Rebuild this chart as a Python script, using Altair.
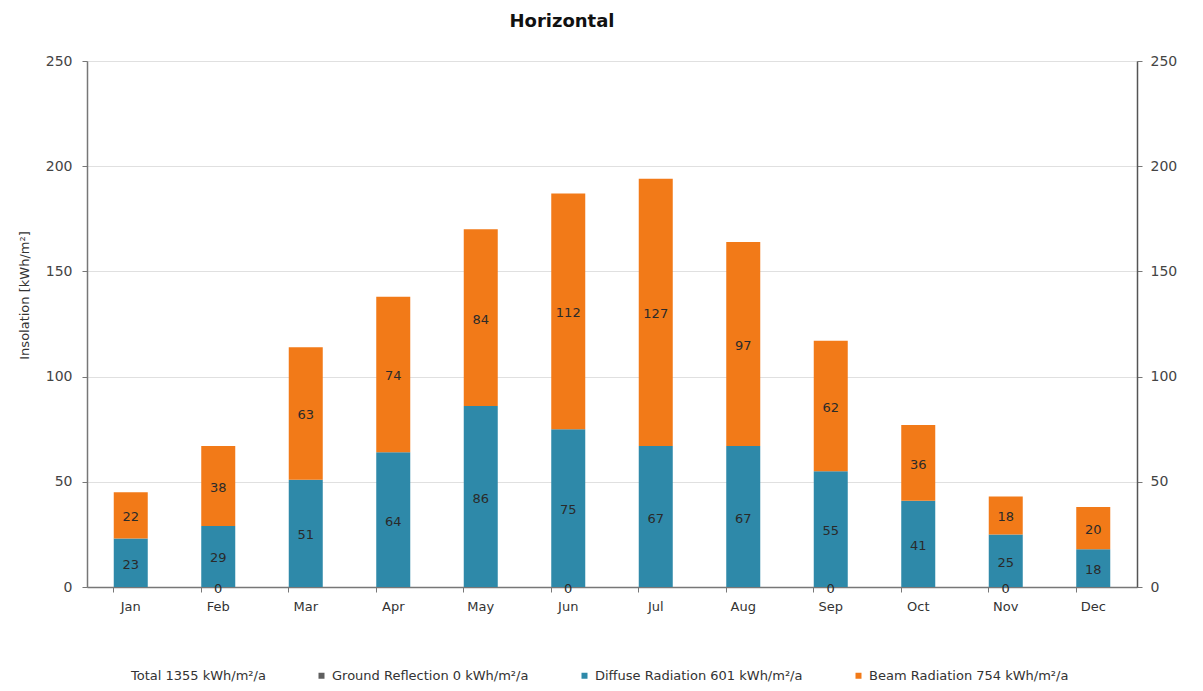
import altair as alt
import pandas as pd

months = ["Jan", "Feb", "Mar", "Apr", "May", "Jun", "Jul", "Aug", "Sep", "Oct", "Nov", "Dec"]
ground = [0, 0, 0, 0, 0, 0, 0, 0, 0, 0, 0, 0]
diffuse = [23, 29, 51, 64, 86, 75, 67, 67, 55, 41, 25, 18]
beam = [22, 38, 63, 74, 84, 112, 127, 97, 62, 36, 18, 20]
ground_label_months = ["Feb", "Jun", "Sep", "Nov"]

series_names = [
    "Total 1355 kWh/m²/a",
    "Ground Reflection 0 kWh/m²/a",
    "Diffuse Radiation 601 kWh/m²/a",
    "Beam Radiation 754 kWh/m²/a",
]
series_colors = ["#ffffff", "#5f5f5f", "#2e89a9", "#f27a18"]

FONT = "DejaVu Sans"

rows = []
for i, m in enumerate(months):
    rows.append({"month": m, "series": series_names[1], "value": ground[i], "ord": 0,
                 "show": m in ground_label_months})
    rows.append({"month": m, "series": series_names[2], "value": diffuse[i], "ord": 1, "show": True})
    rows.append({"month": m, "series": series_names[3], "value": beam[i], "ord": 2, "show": True})
df = pd.DataFrame(rows)

x_enc = alt.X(
    "month:N", sort=months, title=None,
    scale=alt.Scale(paddingInner=0.61, paddingOuter=0.305),
    axis=alt.Axis(bandPosition=0, labelAngle=0, labelFont=FONT, labelFontSize=13,
                  labelColor="#333333", labelPadding=8, tickSize=5, tickColor="#777777",
                  domainColor="#777777", domainWidth=1.5, ticks=True, grid=False),
)

y_scale = alt.Scale(domain=[0, 250], nice=False)

base = alt.Chart(df)

bars = base.mark_bar(size=34).encode(
    x=x_enc,
    y=alt.Y("value:Q", stack="zero", scale=y_scale,
            title="Insolation [kWh/m²]",
            axis=alt.Axis(values=[0, 50, 100, 150, 200, 250], labelFont=FONT, labelFontSize=14,
                          labelColor="#444444", tickSize=5, tickColor="#777777",
                          domainColor="#777777", domainWidth=1.5, gridColor="#e0e0e0",
                          titleFont=FONT, titleFontSize=13, titleFontWeight="normal",
                          titleColor="#333333", titleX=-56, titleY=234, labelPadding=10)),
    color=alt.Color("series:N",
                    scale=alt.Scale(domain=series_names, range=series_colors),
                    legend=alt.Legend(title=None, orient="none", direction="horizontal",
                                      columns=4, columnPadding=49, legendX=27, legendY=608,
                                      symbolType="square", symbolSize=36, symbolStrokeWidth=0,
                                      labelFont=FONT, labelFontSize=13, labelColor="#333333",
                                      labelOffset=4, labelLimit=400)),
    order=alt.Order("ord:Q"),
)

labels = base.transform_stack(
    stack="value", groupby=["month"], sort=[alt.SortField("ord", order="ascending")], as_=["v0", "v1"]
).transform_calculate(
    mid="(datum.v0 + datum.v1) / 2"
).transform_filter(
    "datum.show"
).mark_text(font=FONT, fontSize=13, color="#2a2a2a", baseline="middle", dy=2).encode(
    x=alt.X("month:N", sort=months),
    y=alt.Y("mid:Q", scale=y_scale,
            axis=alt.Axis(orient="right", values=[0, 50, 100, 150, 200, 250], title=None,
                          labelFont=FONT, labelFontSize=14, labelColor="#444444",
                          tickSize=5, tickColor="#777777", domainColor="#555555",
                          domainWidth=1.5, grid=False, labelPadding=8)),
    text=alt.Text("value:Q"),
)

chart = alt.layer(bars, labels).resolve_axis(y="independent").properties(
    width=1050,
    height=526,
    autosize=alt.AutoSizeParams(type="none"),
    padding={"left": 79, "top": 53, "right": 50, "bottom": 96},
    title=alt.TitleParams("Horizontal", font=FONT, fontSize=18, fontWeight="bold",
                          color="#111111", offset=23, dx=-50, anchor="middle"),
).configure_view(stroke=None).configure(background="white")

chart.save("out.html", embed_options={"renderer": "svg", "actions": False})
